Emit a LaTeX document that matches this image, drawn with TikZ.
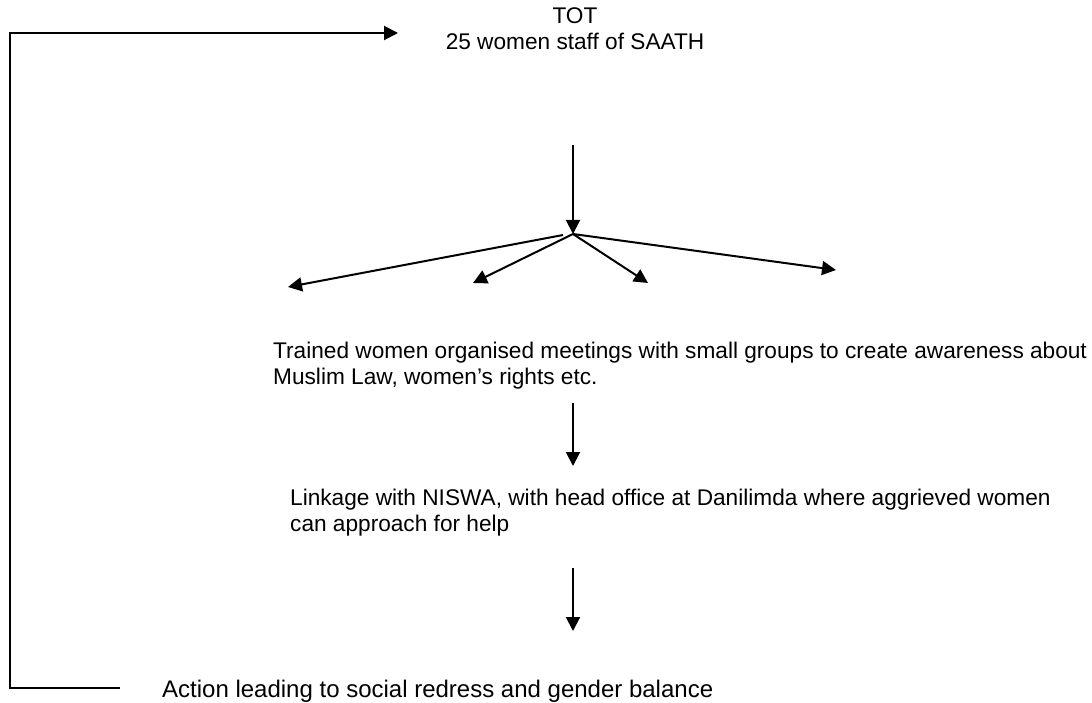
\documentclass[tikz,border=0pt]{standalone}
\usepackage{fontspec}
\setmainfont{Liberation Sans}
\usetikzlibrary{arrows.meta}
\begin{document}
\begin{tikzpicture}[x=1pt,y=-1pt,
  txt/.style={inner sep=0pt,font=\fontsize{22.65}{26}\selectfont},
  conn/.style={line width=2pt},
  arr/.style={conn,-{Triangle[length=14pt,width=14pt]}}]
\useasboundingbox (0,0) rectangle (1092,703);
% texts (base anchor = baseline of the last line)
\node[txt,align=center,anchor=base] (tot) at (575,50) {TOT\\25 women staff of SAATH};
\node[txt,align=left,anchor=base west] (t1) at (273,384) {Trained women organised meetings with small groups to create awareness about\\Muslim Law, women’s rights etc.};
\node[txt,align=left,anchor=base west] (t2) at (290,531) {Linkage with NISWA, with head office at Danilimda where aggrieved women\\can approach for help};
\node[txt,anchor=base west,font=\fontsize{24}{28}\selectfont] (t3) at (162,697) {Action leading to social redress and gender balance};
% coordinates
\coordinate (a0s) at (573,145);
\coordinate (hub) at (573,234);
\coordinate (hubl) at (563,235);
\coordinate (f1) at (288,287);
\coordinate (f2) at (473,283);
\coordinate (f3) at (648,283);
\coordinate (f4) at (836,270);
\coordinate (a1s) at (573,403);
\coordinate (a1e) at (573,466);
\coordinate (a2s) at (573,568);
\coordinate (a2e) at (573,631);
\coordinate (bl) at (10,688);
\coordinate (tl) at (10,33);
\coordinate (be) at (120,688);
\coordinate (te) at (398,33);
% arrows
\draw[arr] (a0s) -- (hub);
\draw[arr] (hubl) -- (f1);
\draw[arr] (hub) -- (f2);
\draw[arr] (hub) -- (f3);
\draw[arr] (hub) -- (f4);
\draw[arr] (a1s) -- (a1e);
\draw[arr] (a2s) -- (a2e);
\draw[arr] (be) -- (bl) -- (tl) -- (te);
\end{tikzpicture}
\end{document}
